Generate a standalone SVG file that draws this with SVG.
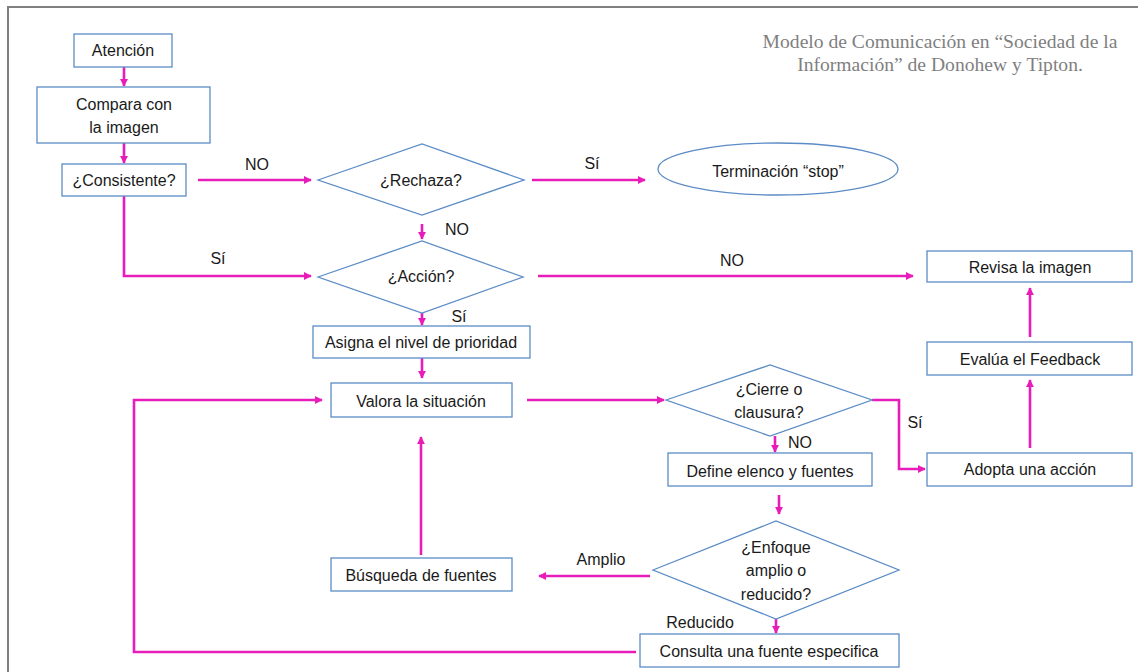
<svg xmlns="http://www.w3.org/2000/svg" width="1138" height="672" viewBox="0 0 1138 672">
  <style>
    .box { fill: #ffffff; stroke: #5b8cc6; stroke-width: 1.3; }
    .lbl { font-family: "Liberation Sans", Arial, sans-serif; font-size: 16px; fill: #1a1a1a; text-anchor: middle; }
    .edge { fill: none; stroke: #e81cb8; stroke-width: 2.6; marker-end: url(#arrow); }
    .title { font-family: "Liberation Serif", "Times New Roman", serif; font-size: 19.6px; fill: #7f7f7f; text-anchor: middle; }
  </style>
  <defs>
    <marker id="arrow" viewBox="0 0 10 10" refX="9" refY="5" markerWidth="3.2" markerHeight="3.2" orient="auto" markerUnits="strokeWidth">
      <path d="M0,0 L10,5 L0,10 z" fill="#e81cb8"/>
    </marker>
  </defs>

  <rect x="0" y="0" width="1138" height="672" fill="#ffffff"/>
  <!-- frame -->
  <path d="M8,672 V7 H1138" fill="none" stroke="#808080" stroke-width="2"/>

  <!-- heading -->
  <g id="title">
    <text class="title" x="940" y="48">Modelo de Comunicación en “Sociedad de la</text>
    <text class="title" x="940" y="71">Información” de Donohew y Tipton.</text>
  </g>

  <!-- connectors -->
  <g id="connectors">
    <path class="edge" d="M124,67 V86"/>
    <path class="edge" d="M124,143 V163"/>
    <path class="edge" d="M198,180 H311"/>
    <path class="edge" d="M124,196 V276 H311"/>
    <path class="edge" d="M532,180 H645"/>
    <path class="edge" d="M422,224 V239"/>
    <path class="edge" d="M538,276 H913"/>
    <path class="edge" d="M422,313 V325"/>
    <path class="edge" d="M422,358 V378"/>
    <path class="edge" d="M527,400 H664"/>
    <path class="edge" d="M872,400 H899 V469 H925"/>
    <path class="edge" d="M775,436 V452"/>
    <path class="edge" d="M779,495 V514"/>
    <path class="edge" d="M776,619 V633"/>
    <path class="edge" d="M650,576 H539"/>
    <path class="edge" d="M421,555 V437"/>
    <path class="edge" d="M636,652 H134 V400 H322"/>
    <path class="edge" d="M1030,448 V380"/>
    <path class="edge" d="M1030,337 V288"/>
  </g>

  <!-- connector labels -->
  <g id="edge-labels">
    <text class="lbl" x="257" y="170">NO</text>
    <text class="lbl" x="592" y="169">Sí</text>
    <text class="lbl" x="457" y="235">NO</text>
    <text class="lbl" x="218" y="264">Sí</text>
    <text class="lbl" x="732" y="266">NO</text>
    <text class="lbl" x="459" y="322">Sí</text>
    <text class="lbl" x="915" y="428">Sí</text>
    <text class="lbl" x="800" y="448">NO</text>
    <text class="lbl" x="601" y="565">Amplio</text>
    <text class="lbl" x="700" y="628">Reducido</text>
  </g>

  <!-- nodes -->
  <g id="atencion">
    <rect class="box" x="74" y="34" width="98" height="33"/>
    <text class="lbl" x="123" y="56">Atención</text>
  </g>
  <g id="compara">
    <rect class="box" x="37" y="87" width="173" height="56"/>
    <text class="lbl" x="124" y="110">Compara con</text>
    <text class="lbl" x="124" y="133">la imagen</text>
  </g>
  <g id="consistente">
    <rect class="box" x="62" y="164" width="124" height="32"/>
    <text class="lbl" x="124" y="186">¿Consistente?</text>
  </g>
  <g id="rechaza">
    <polygon class="box" points="318,180 422,144 524,180 422,215"/>
    <text class="lbl" x="421" y="186">¿Rechaza?</text>
  </g>
  <g id="terminacion">
    <ellipse class="box" cx="778" cy="169" rx="120" ry="26"/>
    <text class="lbl" x="778" y="177">Terminación “stop”</text>
  </g>
  <g id="accion">
    <polygon class="box" points="318,277 422,241 523,277 422,313"/>
    <text class="lbl" x="421" y="282">¿Acción?</text>
  </g>
  <g id="revisa">
    <rect class="box" x="927" y="251" width="205" height="31"/>
    <text class="lbl" x="1030" y="273">Revisa la imagen</text>
  </g>
  <g id="asigna">
    <rect class="box" x="313" y="326" width="217" height="32"/>
    <text class="lbl" x="421" y="348">Asigna el nivel de prioridad</text>
  </g>
  <g id="evalua">
    <rect class="box" x="927" y="342" width="205" height="33"/>
    <text class="lbl" x="1030" y="365">Evalúa el Feedback</text>
  </g>
  <g id="valora">
    <rect class="box" x="331" y="383" width="181" height="34"/>
    <text class="lbl" x="421" y="407">Valora la situación</text>
  </g>
  <g id="cierre">
    <polygon class="box" points="666,400 770,365 872,400 770,436"/>
    <text class="lbl" x="769" y="395">¿Cierre o</text>
    <text class="lbl" x="769" y="418">clausura?</text>
  </g>
  <g id="define">
    <rect class="box" x="668" y="453" width="204" height="33"/>
    <text class="lbl" x="770" y="477">Define elenco y fuentes</text>
  </g>
  <g id="adopta">
    <rect class="box" x="927" y="453" width="205" height="33"/>
    <text class="lbl" x="1030" y="475">Adopta una acción</text>
  </g>
  <g id="enfoque">
    <polygon class="box" points="653,570 776,521 899,570 776,619"/>
    <text class="lbl" x="776" y="553">¿Enfoque</text>
    <text class="lbl" x="776" y="576">amplio o</text>
    <text class="lbl" x="776" y="600">reducido?</text>
  </g>
  <g id="busqueda">
    <rect class="box" x="331" y="558" width="181" height="33"/>
    <text class="lbl" x="421" y="581">Búsqueda de fuentes</text>
  </g>
  <g id="consulta">
    <rect class="box" x="640" y="634" width="259" height="33"/>
    <text class="lbl" x="769" y="657">Consulta una fuente especifica</text>
  </g>
</svg>
